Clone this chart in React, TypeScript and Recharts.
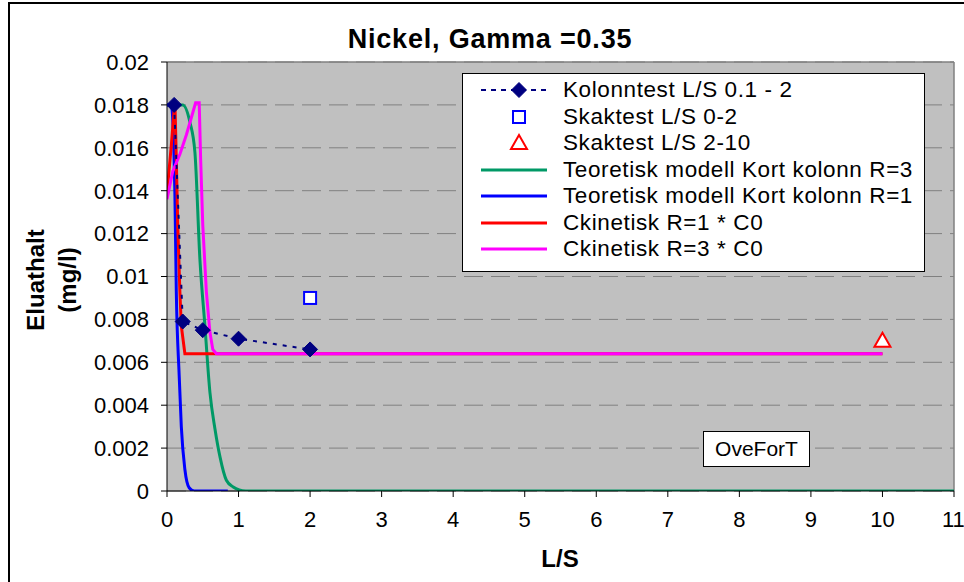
import React from 'react';
import {
  ComposedChart,
  Line,
  Scatter,
  XAxis,
  YAxis,
  CartesianGrid,
  ReferenceLine
} from 'recharts';

// axis ticks
const xTicks = [0, 1, 2, 3, 4, 5, 6, 7, 8, 9, 10, 11];
const yTicks = [0, 0.002, 0.004, 0.006, 0.008, 0.01, 0.012, 0.014, 0.016, 0.018, 0.02];

// Kolonntest L/S 0.1 - 2
const kolonnX = [0.1, 0.22, 0.5, 1, 2];
const kolonnY = [0.018, 0.0079, 0.0075, 0.0071, 0.0066];

// Skaktest
const skak02X = [2];
const skak02Y = [0.009];
const skak210X = [10];
const skak210Y = [0.007];

// Teoretisk modell Kort kolonn R=3
const r3X = [0, 0.22, 0.32, 0.39, 0.46, 0.53, 0.6, 0.67, 0.74, 0.83, 0.92, 1.1, 11];
const r3Y = [0.018, 0.018, 0.0172, 0.0158, 0.0108, 0.0077, 0.0046, 0.0029, 0.0016, 0.0005, 0.0002, 0, 0];

// Teoretisk modell Kort kolonn R=1
const r1X = [0, 0.06, 0.11, 0.13, 0.17, 0.2, 0.25, 0.31, 0.38, 0.85];
const r1Y = [0.018, 0.018, 0.0139, 0.0093, 0.0054, 0.003, 0.001, 0.00015, 0, 0];

// Ckinetisk R=1 * C0
const ck1X = [0, 0.06, 0.11, 0.13, 0.15, 0.18, 0.2, 0.25, 10];
const ck1Y = [0.0139, 0.0161, 0.0182, 0.0155, 0.0124, 0.0093, 0.0077, 0.0064, 0.0064];

// Ckinetisk R=3 * C0
const ck3X = [0, 0.08, 0.18, 0.27, 0.34, 0.4, 0.45, 0.47, 0.5, 0.55, 0.6, 0.64, 0.69, 10];
const ck3Y = [0.0136, 0.0149, 0.0157, 0.0166, 0.0174, 0.0181, 0.0181, 0.0155, 0.0124, 0.0093, 0.0074, 0.0066, 0.0064, 0.0064];

const pts = (xs: number[], ys: number[]) => xs.map((x, i) => ({ x, y: ys[i] }));

const FONT = 'Arial, "Liberation Sans", sans-serif';

const Diamond = (props: any) => {
  const { cx, cy } = props;
  if (cx == null || cy == null) return null;
  const r = 7.5;
  return (
    <polygon
      points={`${cx},${cy - r} ${cx + r},${cy} ${cx},${cy + r} ${cx - r},${cy}`}
      fill="#000080"
      stroke="#000080"
    />
  );
};

const Square = (props: any) => {
  const { cx, cy } = props;
  return <rect x={cx - 6} y={cy - 6} width={12} height={12} fill="#fff" stroke="#0000ff" strokeWidth={2} />;
};

const Triangle = (props: any) => {
  const { cx, cy } = props;
  return (
    <polygon
      points={`${cx},${cy - 8} ${cx + 8},${cy + 6} ${cx - 8},${cy + 6}`}
      fill="#fff"
      stroke="#ff0000"
      strokeWidth={2}
    />
  );
};

const legendItems = [
  { name: 'Kolonntest L/S 0.1 - 2', kind: 'kolonn' },
  { name: 'Skaktest L/S 0-2', kind: 'square' },
  { name: 'Skaktest L/S 2-10', kind: 'triangle' },
  { name: 'Teoretisk modell Kort kolonn R=3', kind: 'line', color: '#009966' },
  { name: 'Teoretisk modell Kort kolonn R=1', kind: 'line', color: '#0000ff' },
  { name: 'Ckinetisk R=1 * C0', kind: 'line', color: '#ff0000' },
  { name: 'Ckinetisk R=3 * C0', kind: 'line', color: '#ff00ff' },
];

function LegendIcon({ item }: { item: any }) {
  return (
    <svg width={84} height={26} style={{ display: 'block' }}>
      {item.kind === 'kolonn' && (
        <>
          <line x1={18} y1={13} x2={92} y2={13} stroke="#000080" strokeWidth={2} strokeDasharray="5 5" />
          <Diamond cx={56} cy={13} />
        </>
      )}
      {item.kind === 'square' && <Square cx={56} cy={13} />}
      {item.kind === 'triangle' && <Triangle cx={56} cy={13} />}
      {item.kind === 'line' && <line x1={18} y1={13} x2={95} y2={13} stroke={item.color} strokeWidth={3} />}
    </svg>
  );
}

export default function App() {
  return (
    <div style={{ position: 'relative', width: 964, height: 582, background: '#fff', fontFamily: FONT, overflow: 'hidden' }}>
      <style>{'body{margin:0}'}</style>
      <div
        style={{
          position: 'absolute',
          left: 8,
          top: 2,
          width: 964,
          height: 590,
          borderLeft: '2px solid #000',
          borderTop: '2px solid #000',
        }}
      />
      <div style={{ position: 'absolute', left: 0, top: 0 }}>
        <ComposedChart width={964} height={582} margin={{ top: 62, right: 10, bottom: 61, left: 87 }}>
          <CartesianGrid
            vertical={false}
            fill="#c0c0c0"
            fillOpacity={1}
            stroke="#808080"
            strokeDasharray="19 8"
          />
          <XAxis
            type="number"
            dataKey="x"
            domain={[0, 11]}
            ticks={xTicks}
            allowDataOverflow
            height={30}
            stroke="#000"
            tickSize={6}
            tickMargin={14}
            tick={{ fill: '#000', fontSize: 22, fontFamily: FONT }}
          />
          <YAxis
            type="number"
            dataKey="y"
            domain={[0, 0.02]}
            ticks={yTicks}
            allowDataOverflow
            width={80}
            stroke="#000"
            tickSize={6}
            tickMargin={12}
            tickFormatter={(v: number) => String(v)}
            tick={{ fill: '#000', fontSize: 22, fontFamily: FONT }}
          />
          <ReferenceLine y={0.02} stroke="#808080" strokeWidth={1.5} />
          <ReferenceLine x={11} stroke="#808080" strokeWidth={1.5} />
          <Line
            data={pts(r3X, r3Y)}
            dataKey="y"
            type="monotone"
            stroke="#009966"
            strokeWidth={3}
            dot={false}
            isAnimationActive={false}
          />
          <Line
            data={pts(r1X, r1Y)}
            dataKey="y"
            type="monotone"
            stroke="#0000ff"
            strokeWidth={3}
            dot={false}
            isAnimationActive={false}
          />
          <Line
            data={pts(ck1X, ck1Y)}
            dataKey="y"
            type="linear"
            stroke="#ff0000"
            strokeWidth={3}
            dot={false}
            isAnimationActive={false}
          />
          <Line
            data={pts(ck3X, ck3Y)}
            dataKey="y"
            type="linear"
            stroke="#ff00ff"
            strokeWidth={3}
            dot={false}
            isAnimationActive={false}
          />
          <Line
            data={pts(kolonnX, kolonnY)}
            dataKey="y"
            type="linear"
            stroke="#000080"
            strokeWidth={2}
            strokeDasharray="4 6"
            dot={<Diamond />}
            isAnimationActive={false}
          />
          <Scatter data={pts(skak02X, skak02Y)} dataKey="y" shape={<Square />} isAnimationActive={false} />
          <Scatter data={pts(skak210X, skak210Y)} dataKey="y" shape={<Triangle />} isAnimationActive={false} />
        </ComposedChart>
      </div>

      {/* title */}
      <div
        style={{
          position: 'absolute',
          left: 290,
          width: 400,
          top: 24,
          textAlign: 'center',
          fontSize: 27,
          fontWeight: 'bold',
          letterSpacing: 0.8,
        }}
      >
        Nickel, Gamma =0.35
      </div>

      {/* axis titles */}
      <div
        style={{
          position: 'absolute',
          left: -8,
          top: 248,
          width: 120,
          height: 64,
          transform: 'rotate(-90deg)',
          textAlign: 'center',
          fontSize: 24,
          fontWeight: 'bold',
          lineHeight: '32px',
        }}
      >
        Eluathalt
        <br />
        (mg/l)
      </div>
      <div
        style={{
          position: 'absolute',
          left: 500,
          width: 120,
          top: 545,
          textAlign: 'center',
          fontSize: 24,
          fontWeight: 'bold',
        }}
      >
        L/S
      </div>

      {/* legend */}
      <div
        style={{
          position: 'absolute',
          left: 462,
          top: 73,
          width: 461,
          height: 194,
          background: '#fff',
          border: '1px solid #000',
          paddingTop: 3,
          boxSizing: 'content-box',
        }}
      >
        {legendItems.map((item) => (
          <div key={item.name} style={{ display: 'flex', alignItems: 'center', height: 26.5 }}>
            <LegendIcon item={item} />
            <span style={{ fontSize: 22.5, letterSpacing: 0.6, whiteSpace: 'nowrap', marginLeft: 16 }}>{item.name}</span>
          </div>
        ))}
      </div>

      {/* note box */}
      <div
        style={{
          position: 'absolute',
          left: 703,
          top: 431,
          width: 105,
          height: 34,
          background: '#fff',
          border: '1px solid #000',
          fontSize: 21,
          lineHeight: '34px',
          textAlign: 'center',
        }}
      >
        OveForT
      </div>
    </div>
  );
}
